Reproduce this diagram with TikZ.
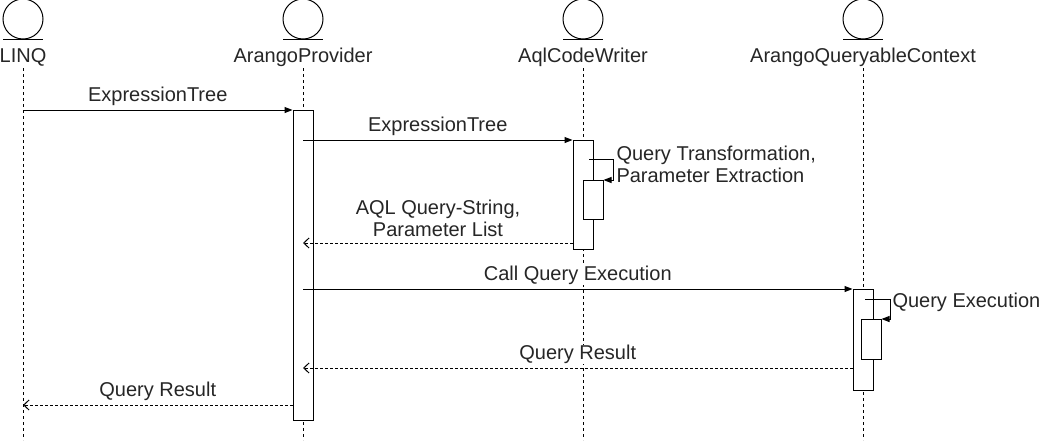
\documentclass[tikz,border=0pt]{standalone}
\usepackage{fontspec}
\setmainfont{Liberation Sans}
\usetikzlibrary{calc,arrows.meta}
\newcommand{\Px}{0.75pt}
\tikzset{Bar/.style={
    inner sep=0pt,
    minimum width=20*\Px,
    draw=black,
    fill=white,
    anchor=north,
    }
}

\begin{document}
\begin{tikzpicture}[x=\Px, y=-\Px, line width=\Px,
    font=\fontsize{15}{16.5}\selectfont,
    head/.style={circle, draw=black, inner sep=0pt, minimum size=40*\Px},
    life/.style={dash pattern=on 2.25pt off 2.25pt},
    msg/.style={-{Triangle[length=6pt,width=4.5pt]}},
    ret/.style={dash pattern=on 2.25pt off 1.5pt, -{Straight Barb[length=4pt,width=7.5pt]}},
    lbl/.style={inner sep=0pt, align=center, text=black!85, fill=white},
]
\useasboundingbox (0,0) rectangle (1042,440);

% actors
\foreach \name/\x/\txt in {linq/23/LINQ, prov/303/ArangoProvider,
                           aql/583/AqlCodeWriter, ctx/863/ArangoQueryableContext}{
    \node [head] (\name head) at (\x,19) {};
    \draw ($(\name head.south)+(-20,0)$) -- ($(\name head.south)+(20,0)$);
    \node [lbl] (\name) at (\x,57) {\txt};
    \draw [life] (\x,68) -- (\x,440);
}

% activation bars
\node [Bar, minimum height=310*\Px] (provbar) at (303,110) {};
\node [Bar, minimum height=109*\Px] (aqlbar) at (583,140) {};
\node [Bar, minimum height=39*\Px] (aqlsub) at (593,180) {};
\node [Bar, minimum height=101*\Px] (ctxbar) at (863,289) {};
\node [Bar, minimum height=40*\Px] (ctxsub) at (871,319) {};

\coordinate (linqa) at (23,110);
\coordinate (linqb) at (23,405);
\coordinate (prova) at (303,140);
\coordinate (provb) at (303,243);
\coordinate (provc) at (303,289);
\coordinate (provd) at (303,368);
\coordinate (aqla) at (589,159);
\coordinate (ctxa) at (865,299);

% messages
\draw [msg] (linqa) -- (provbar.north west)
    node [lbl, midway, above=3pt] (m1) {ExpressionTree};
\draw [msg] (prova) -- (aqlbar.north west)
    node [lbl, midway, above=3pt] (m2) {ExpressionTree};
\draw [msg] (aqla) -- ++(24,0) |- (aqlsub.north east);
\node [lbl, anchor=west, align=left] (m3) at (616,164) {Query Transformation,\\Parameter Extraction};
\draw [ret] (aqlbar.south west |- provb) -- (provb);
\node [lbl] (m4) at (438,218) {AQL Query-String,\\Parameter List};
\draw [msg] (provc) -- (ctxbar.north west)
    node [lbl, midway, above=3pt] (m5) {Call Query Execution};
\draw [msg] (ctxa) -- ++(25,0) |- (ctxsub.north east);
\node [lbl, anchor=west] (m6) at (892,302) {Query Execution};
\draw [ret] (ctxbar.south west |- provd) -- (provd)
    node [lbl, midway, above=3pt] (m7) {Query Result};
\draw [ret] (provbar.south west |- linqb) -- (linqb)
    node [lbl, midway, above=3pt] (m8) {Query Result};
\end{tikzpicture}
\end{document}
